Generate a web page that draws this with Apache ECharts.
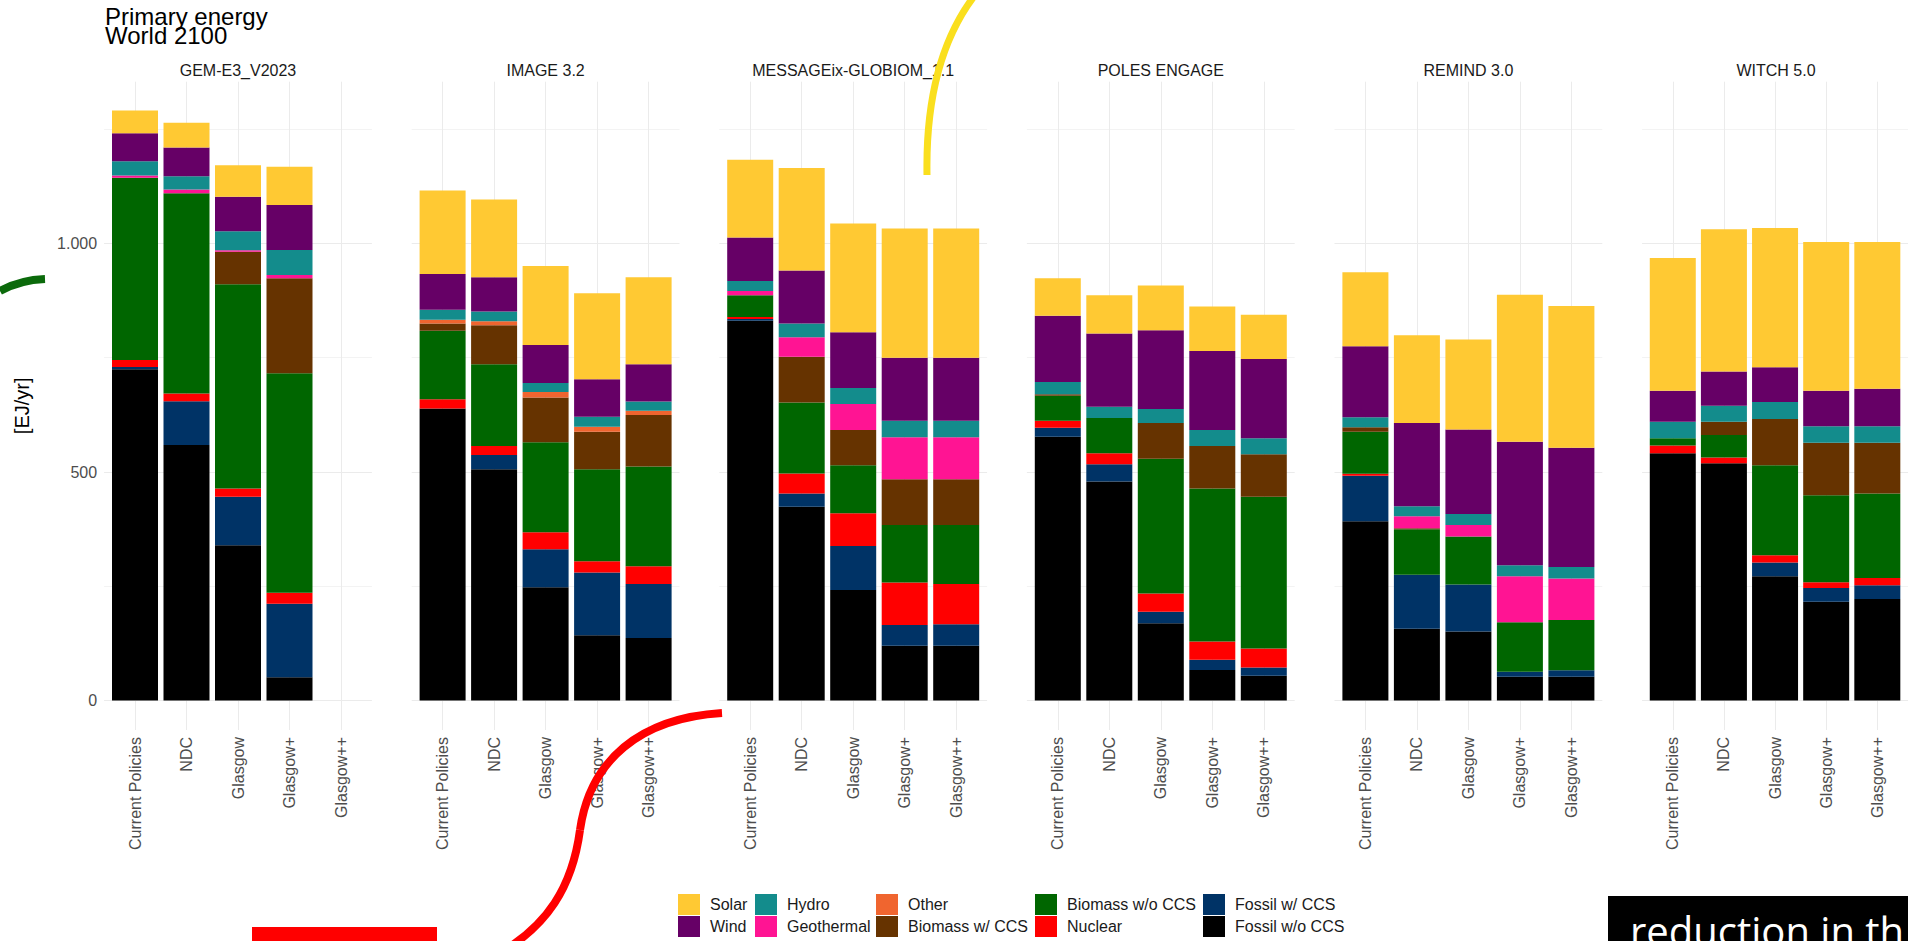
<!DOCTYPE html>
<html><head><meta charset="utf-8">
<script src="https://cdn.jsdelivr.net/npm/echarts@6/dist/echarts.min.js"></script>
<style>html,body{margin:0;padding:0;background:#fff}#c{width:1908px;height:941px}</style>
</head><body><div id="c"></div>
<script>
// ---------------- DATA ----------------
const models = ['GEM-E3_V2023','IMAGE 3.2','MESSAGEix-GLOBIOM_1.1','POLES ENGAGE','REMIND 3.0','WITCH 5.0'];
const scenarios = ['Current Policies','NDC','Glasgow','Glasgow+','Glasgow++'];
const yTickValues = [0, 500, 1000];
const yTickLabels = ['0', '500', '1.000'];
// each array: one row per model (order as in models), values per scenario, EJ/yr
const fossilWoCCS  = [[725,559,340,51,null],[639,506,248,143,137],[831,424,242,120,120],[577,479,169,67,54],[392,157,151,52,52],[541,519,272,216,222]];
const fossilWCCS   = [[5,96,106,161,null],[0,31,83,137,118],[4,29,96,45,47],[20,38,25,22,18],[100,118,103,11,14],[0,0,30,30,30]];
const nuclear      = [[15,17,18,24,null],[20,20,37,25,39],[4,44,72,93,88],[15,24,40,40,42],[4,0,0,0,0],[17,13,16,13,16]];
const biomassWoCCS = [[399,438,447,480,null],[150,179,197,201,218],[48,155,105,126,129],[55,77,295,335,332],[92,100,105,108,110],[16,49,197,190,185]];
const biomassWCCS  = [[0,0,71,208,null],[16,85,98,82,113],[0,100,77,100,100],[3,0,78,93,93],[10,2,0,0,0],[0,29,101,115,111]];
const other        = [[0,0,0,0,null],[8,9,12,11,9],[0,0,0,0,0],[0,0,0,0,0],[0,0,0,0,0],[0,0,0,0,0]];
const geothermal   = [[5,8,3,7,null],[0,0,0,0,0],[9,43,57,92,92],[0,0,0,0,0],[0,26,25,101,91],[0,0,0,0,0]];
const hydro        = [[31,29,42,55,null],[22,21,20,22,20],[22,30,35,36,36],[27,25,31,35,35],[22,22,24,24,25],[36,35,37,36,36]];
const wind         = [[61,63,75,98,null],[78,75,83,82,82],[95,116,122,138,138],[145,160,172,173,173],[155,182,185,270,261],[68,75,76,78,82]];
const solar        = [[50,54,69,84,null],[183,170,173,188,190],[170,224,238,283,283],[82,84,98,97,97],[162,192,197,322,310],[290,311,305,325,321]];

// stacking order bottom -> top
const carriers = [
  {name:'Fossil w/o CCS', data:fossilWoCCS, color:'#000000'},
  {name:'Fossil w/ CCS', data:fossilWCCS, color:'#003366'},
  {name:'Nuclear', data:nuclear, color:'#FF0000'},
  {name:'Biomass w/o CCS', data:biomassWoCCS, color:'#006600'},
  {name:'Biomass w/ CCS', data:biomassWCCS, color:'#663300'},
  {name:'Other', data:other, color:'#F0652F'},
  {name:'Geothermal', data:geothermal, color:'#FF1493'},
  {name:'Hydro', data:hydro, color:'#138C8C'},
  {name:'Wind', data:wind, color:'#660066'},
  {name:'Solar', data:solar, color:'#FFC933'}
];
const legendColumns = [['Solar','Wind'],['Hydro','Geothermal'],['Other','Biomass w/ CCS'],['Biomass w/o CCS','Nuclear'],['Fossil w/ CCS','Fossil w/o CCS']];

// ---------------- LAYOUT ----------------
const FONT = '"Liberation Sans", Arial, sans-serif';
const firstCenter = 135, pitch = 307.6, unit = 51.5;
const gTop = 81.7, gBottom = 730;
const yMin = -64.5, yMax = 1354;
const legendLeft = [678, 755, 876, 1035, 1203];

const grids = [], xAxes = [], yAxes = [], series = [], graphics = [];
models.forEach((m, p) => {
  const left = firstCenter + p * pitch - 0.6 * unit;
  const width = 5.2 * unit;
  grids.push({left: left, top: gTop, width: width, height: gBottom - gTop, containLabel: false});
  xAxes.push({
    type: 'value', gridIndex: p, min: -0.6, max: 4.6, minInterval: 1, maxInterval: 1,
    axisLine: {show: false}, axisTick: {show: false},
    splitLine: {show: true, showMinLine: false, showMaxLine: false, lineStyle: {color: '#EBEBEB', width: 1}},
    axisLabel: {
      rotate: 90, margin: 7, fontSize: 16, color: '#4D4D4D', fontFamily: FONT,
      showMinLabel: false, showMaxLabel: false,
      formatter: v => (Math.abs(v - Math.round(v)) < 1e-6 && v >= 0 && v <= 4) ? scenarios[Math.round(v)] : ''
    }
  });
  yAxes.push({
    type: 'value', gridIndex: p, min: yMin, max: yMax, minInterval: 250, maxInterval: 250,
    axisLine: {show: false}, axisTick: {show: false},
    splitLine: {show: true, showMinLine: false, showMaxLine: false, lineStyle: {color: ['#EBEBEB', '#F3F3F3'], width: 1}},
    axisLabel: {
      show: p === 0, margin: 7, fontSize: 16, color: '#4D4D4D', fontFamily: FONT,
      showMinLabel: false, showMaxLabel: false,
      formatter: v => { const i = yTickValues.indexOf(Math.round(v)); return (i >= 0 && Math.abs(v - Math.round(v)) < 1e-6) ? yTickLabels[i] : ''; }
    }
  });
  carriers.forEach(c => {
    series.push({
      type: 'bar', name: c.name, xAxisIndex: p, yAxisIndex: p, stack: 'm' + p,
      barWidth: 46, itemStyle: {color: c.color},
      emphasis: {disabled: true}, silent: true,
      // value first so that the stacked dimension is the y value
      encode: {x: 1, y: 0},
      data: c.data[p].map((v, i) => [v, i])
    });
  });
  graphics.push({
    type: 'text', x: left + width / 2, y: 70, silent: true,
    style: {text: m, fill: '#1A1A1A', fontSize: 16, fontFamily: FONT, align: 'center', verticalAlign: 'middle'}
  });
});

// axis title
graphics.push({type: 'text', x: 22, y: (gTop + gBottom) / 2, rotation: Math.PI / 2, silent: true,
  style: {text: '[EJ/yr]', fill: '#000', fontSize: 20, fontFamily: FONT, align: 'center', verticalAlign: 'middle'}});

// slide decorations overlaid on the chart
const deco = (shape, stroke, w) => ({type: 'bezierCurve', silent: true, z: 100, shape: shape,
  style: {stroke: stroke, lineWidth: w, fill: null, lineCap: 'butt'}});
graphics.push(deco({x1: 0, y1: 291, cpx1: 20, cpy1: 280, x2: 45, y2: 279}, '#0B6A0B', 8));
graphics.push(deco({x1: 927, y1: 175, cpx1: 925, cpy1: 60, x2: 975, y2: -5}, '#FADF1E', 7));
graphics.push(deco({x1: 722, y1: 713, cpx1: 640, cpy1: 718, cpx2: 590, cpy2: 760, x2: 580, y2: 830}, '#FF0000', 8));
graphics.push(deco({x1: 580, y1: 830, cpx1: 572, cpy1: 890, cpx2: 545, cpy2: 925, x2: 505, y2: 950}, '#FF0000', 8));
graphics.push({type: 'rect', silent: true, z: 100, shape: {x: 252, y: 927, width: 185, height: 20}, style: {fill: '#FF0000'}});
graphics.push({type: 'rect', silent: true, z: 100, shape: {x: 1608, y: 896, width: 300, height: 45}, style: {fill: '#000'}});
graphics.push({type: 'text', silent: true, z: 101, x: 1630, y: 910,
  style: {text: 'reduction in th', fill: '#fff', fontSize: 40, fontFamily: '"Open Sans", sans-serif', align: 'left', verticalAlign: 'top'}});

const legends = legendColumns.map((col, i) => ({
  orient: 'vertical', left: legendLeft[i], top: 894, padding: 0,
  itemWidth: 22, itemHeight: 21, itemGap: 1, icon: 'rect', selectedMode: false,
  data: col,
  textStyle: {fontSize: 16, color: '#1A1A1A', fontFamily: FONT, padding: [0, 0, 0, 5]}
}));

const chart = echarts.init(document.getElementById('c'), null, {renderer: 'svg'});
chart.setOption({
  animation: false,
  backgroundColor: '#fff',
  title: {text: 'Primary energy\nWorld 2100', left: 105, top: 7, padding: 0,
    textStyle: {fontSize: 24, lineHeight: 19, color: '#000', fontWeight: 'normal', fontFamily: FONT}},
  grid: grids, xAxis: xAxes, yAxis: yAxes, series: series,
  legend: legends, graphic: graphics
});
</script></body></html>
